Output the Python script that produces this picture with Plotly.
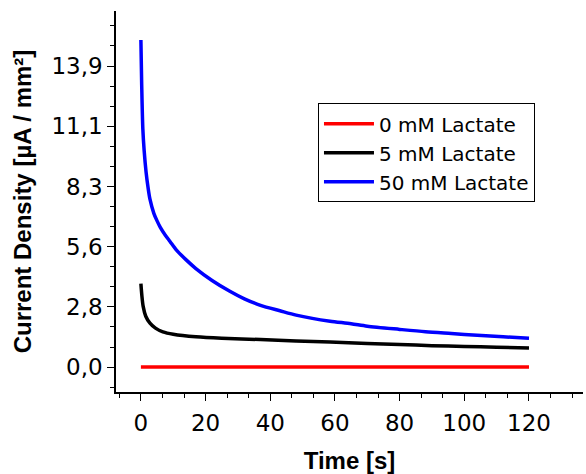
import plotly.graph_objects as go

# ---- data ----
t_blue = [0, 0.25, 0.6, 1.0, 1.6, 2.2, 2.8, 4, 5, 6, 7.5, 9, 11, 14, 17, 22, 27.5, 32, 37, 43, 48, 53,
          58.5, 65, 70, 80, 88, 96, 104, 112, 120]
j_blue = [15.1, 13.0, 11.0, 10.0, 9.0, 8.3, 7.75, 7.1, 6.75, 6.45, 6.1, 5.8, 5.4, 4.95, 4.55, 4.0, 3.5,
          3.15, 2.85, 2.6, 2.4, 2.25, 2.12, 2.0, 1.89, 1.74, 1.63, 1.55, 1.47, 1.40, 1.33]

t_black = [0, 0.3, 0.7, 1.5, 2.8, 4.5, 6.8, 10, 17, 25, 37, 48, 58.5, 70, 80, 90, 100, 110, 120]
j_black = [3.85, 3.3, 2.8, 2.35, 2.03, 1.8, 1.63, 1.52, 1.40, 1.33, 1.27, 1.2, 1.16, 1.09,
           1.04, 0.99, 0.95, 0.92, 0.88]

t_red = [0, 20, 40, 60, 80, 100, 120]
j_red = [0, 0, 0, 0, 0, 0, 0]

series_names = ["0 mM Lactate", "5 mM Lactate", "50 mM Lactate"]
series_colors = ["#ff0000", "#000000", "#0000ff"]

y_tickvals = [0, 2.78, 5.56, 8.34, 11.12, 13.9]
y_ticktext = ["0,0", "2,8", "5,6", "8,3", "11,1", "13,9"]

x_title = "Time [s]"
y_title = "Current Density [µA / mm²]"

fig = go.Figure()
for name, color, tx, jy in zip(series_names, series_colors,
                               [t_red, t_black, t_blue], [j_red, j_black, j_blue]):
    fig.add_trace(go.Scatter(x=tx, y=jy, mode="lines", name=name,
                             line=dict(color=color, width=3.5, shape="spline", smoothing=0.8)))

tick_font = dict(family="DejaVu Sans", size=23, color="black")
title_font = dict(family="Liberation Sans", size=24, color="black")

fig.update_layout(
    width=586, height=474,
    margin=dict(l=116, r=3, t=11, b=82, autoexpand=False),
    paper_bgcolor="white", plot_bgcolor="white",
    showlegend=True,
    legend=dict(x=0.4325, y=0.758, xanchor="left", yanchor="top",
                bordercolor="black", borderwidth=1, bgcolor="white",
                itemwidth=50, tracegroupgap=0,
                font=dict(family="DejaVu Sans", size=20, color="black")),
)

fig.update_xaxes(
    range=[-7.7, 136.7], showgrid=False, zeroline=False, automargin=False,
    showline=True, linecolor="black", linewidth=1.5,
    ticks="outside", ticklen=7, tickwidth=1.2, tickcolor="black",
    tick0=0, dtick=20, tickfont=tick_font, ticklabelstandoff=3,
    minor=dict(ticks="outside", ticklen=4, tickwidth=1, tickcolor="black",
               tick0=0, dtick=20 / 3, showgrid=False),
    title=dict(text="<b>" + x_title + "</b>", font=title_font, standoff=20),
)
fig.update_yaxes(
    range=[-1.15, 16.44], showgrid=False, zeroline=False, automargin=False,
    showline=True, linecolor="black", linewidth=1.5,
    ticks="outside", ticklen=7, tickwidth=1.2, tickcolor="black",
    tickmode="array", tickvals=y_tickvals, ticktext=y_ticktext,
    tickfont=tick_font, ticklabelstandoff=0,
    minor=dict(ticks="outside", ticklen=4, tickwidth=1, tickcolor="black",
               tickmode="linear", tick0=0, dtick=2.78 / 3, showgrid=False),
    title=dict(text="<b>" + y_title + "</b>", font=title_font, standoff=13),
)

fig.write_html("out.html", config={"displayModeBar": False},
               post_script="document.body.style.margin='0';")
